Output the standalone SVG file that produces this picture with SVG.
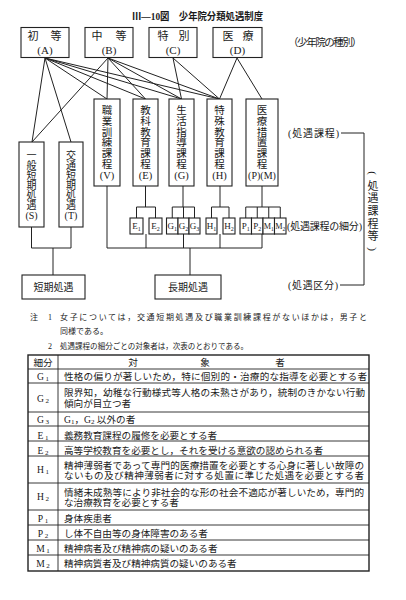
<svg xmlns="http://www.w3.org/2000/svg" width="406" height="600" viewBox="0 0 406 600">
<style>
text { font-family: 'Liberation Serif','Noto Sans CJK JP',serif; fill:#1a1a1a; }
.box { fill:#fff; stroke:#222; stroke-width:1.1; }
.ln { stroke:#222; stroke-width:1; fill:none; }
.c { text-anchor:middle; }
.t11 { font-size:11px; }
.v { font-size:10.5px; text-anchor:middle; }
.vs { font-size:10px; text-anchor:middle; }
.sb { font-size:9px; text-anchor:middle; }
.tb { font-size:9.6px; }
.lb { font-size:10px; text-anchor:middle; }
.nt { font-size:8px; }
.lab { font-size:10px; }
.tl { stroke:#222; stroke-width:0.9; fill:none; }
</style>
<rect width="406" height="600" fill="#fff"/>
<text x="132" y="19.5" font-size="10" font-weight="bold" textLength="131" lengthAdjust="spacingAndGlyphs">Ⅲ—10図　少年院分類処遇制度</text>

<g id="connectors">
<path class="ln" d="M45 58 L32 142 M45 58 L71 142 M45 58 L107 99 M45 58 L145.5 99 M45 58 L181.5 99 M45 58 L219.5 99"/>
<path class="ln" d="M108 58 L32 142 M108 58 L107 99 M108 58 L145.5 99 M108 58 L181.5 99 M108 58 L219.5 99"/>
<path class="ln" d="M173 58 L181.5 99 M173 58 L219.5 99"/>
<path class="ln" d="M237 58 L219.5 99 M237 58 L262 99"/>
<path class="ln" d="M145.5 186 V207 M136.5 207 H155.5 M136.5 207 V218 M155.5 207 V218"/>
<path class="ln" d="M183 186 V207 M172.25 207 H194.5 M172.25 207 V218 M183.5 207 V218 M194.5 207 V218"/>
<path class="ln" d="M220 186 V207 M211.5 207 H229 M211.5 207 V218 M229 207 V218"/>
<path class="ln" d="M262 186 V207 M245.75 207 H280.25 M245.75 207 V218 M257.25 207 V218 M268.75 207 V218 M280.25 207 V218"/>
<path class="ln" d="M107 186 V248 H262 M146 234 V248 M183.5 234 V248 M220 234 V248 M262 234 V248 M190 248 V275"/>
<path class="ln" d="M31.5 227 V248 H71 V227 M53 248 V275"/>
<path class="ln" d="M341 133 H364 V285 H340"/>
</g>

<g id="node-A"><rect class="box" x="21" y="27.5" width="48" height="30"/><text class="t11 c" x="33" y="39.5">初</text><text class="t11 c" x="56" y="39.5">等</text><text class="t11 c" x="45" y="53.5">(A)</text></g>
<g id="node-B"><rect class="box" x="85" y="27.5" width="48" height="30"/><text class="t11 c" x="97" y="39.5">中</text><text class="t11 c" x="121" y="39.5">等</text><text class="t11 c" x="109" y="53.5">(B)</text></g>
<g id="node-C"><rect class="box" x="149" y="27.5" width="48" height="30"/><text class="t11 c" x="163" y="39.5">特</text><text class="t11 c" x="184" y="39.5">別</text><text class="t11 c" x="173" y="53.5">(C)</text></g>
<g id="node-D"><rect class="box" x="213" y="27.5" width="49" height="30"/><text class="t11 c" x="228" y="39.5">医</text><text class="t11 c" x="248" y="39.5">療</text><text class="t11 c" x="237.5" y="53.5">(D)</text></g>
<text x="288" y="46" font-size="10.5" textLength="74">（少年院の種別）</text>

<g id="node-V"><rect class="box" x="94" y="99" width="26" height="87"/>
<text class="v"><tspan x="107" y="114">職</tspan><tspan x="107" y="124.8">業</tspan><tspan x="107" y="135.6">訓</tspan><tspan x="107" y="146.4">練</tspan><tspan x="107" y="157.2">課</tspan><tspan x="107" y="168">程</tspan><tspan x="107" y="178.5">(V)</tspan></text></g>
<g id="node-E"><rect class="box" x="133" y="99" width="25" height="87"/>
<text class="v"><tspan x="145.5" y="114">教</tspan><tspan x="145.5" y="124.8">科</tspan><tspan x="145.5" y="135.6">教</tspan><tspan x="145.5" y="146.4">育</tspan><tspan x="145.5" y="157.2">課</tspan><tspan x="145.5" y="168">程</tspan><tspan x="145.5" y="178.5">(E)</tspan></text></g>
<g id="node-G"><rect class="box" x="169" y="99" width="25" height="87"/>
<text class="v"><tspan x="181.5" y="114">生</tspan><tspan x="181.5" y="124.8">活</tspan><tspan x="181.5" y="135.6">指</tspan><tspan x="181.5" y="146.4">導</tspan><tspan x="181.5" y="157.2">課</tspan><tspan x="181.5" y="168">程</tspan><tspan x="181.5" y="178.5">(G)</tspan></text></g>
<g id="node-H"><rect class="box" x="207" y="99" width="25" height="87"/>
<text class="v"><tspan x="219.5" y="114">特</tspan><tspan x="219.5" y="124.8">殊</tspan><tspan x="219.5" y="135.6">教</tspan><tspan x="219.5" y="146.4">育</tspan><tspan x="219.5" y="157.2">課</tspan><tspan x="219.5" y="168">程</tspan><tspan x="219.5" y="178.5">(H)</tspan></text></g>
<g id="node-PM"><rect class="box" x="246" y="99" width="32" height="87"/>
<text class="v"><tspan x="262" y="114">医</tspan><tspan x="262" y="124.8">療</tspan><tspan x="262" y="135.6">措</tspan><tspan x="262" y="146.4">置</tspan><tspan x="262" y="157.2">課</tspan><tspan x="262" y="168">程</tspan><tspan x="262" y="178.5" font-size="10">(P)(M)</tspan></text></g>

<g id="node-S"><rect class="box" x="19" y="142" width="25" height="85"/>
<text class="vs"><tspan x="31.5" y="159">一</tspan><tspan x="31.5" y="169">般</tspan><tspan x="31.5" y="179">短</tspan><tspan x="31.5" y="189">期</tspan><tspan x="31.5" y="199">処</tspan><tspan x="31.5" y="209">遇</tspan><tspan x="31.5" y="218.5">(S)</tspan></text></g>
<g id="node-T"><rect class="box" x="59" y="142" width="24" height="85"/>
<text class="vs"><tspan x="71" y="159">交</tspan><tspan x="71" y="169">通</tspan><tspan x="71" y="179">短</tspan><tspan x="71" y="189">期</tspan><tspan x="71" y="199">処</tspan><tspan x="71" y="209">遇</tspan><tspan x="71" y="218.5">(T)</tspan></text></g>

<g id="sub-E1"><rect class="box" x="130" y="218" width="13" height="16"/><text class="sb" x="136.5" y="229">E<tspan font-size="6" dy="1.5">1</tspan></text></g>
<g id="sub-E2"><rect class="box" x="149" y="218" width="13" height="16"/><text class="sb" x="155.5" y="229">E<tspan font-size="6" dy="1.5">2</tspan></text></g>
<g id="sub-G1"><rect class="box" x="166.5" y="218" width="11.5" height="16"/><text class="sb" x="172.25" y="229">G<tspan font-size="6" dy="1.5">1</tspan></text></g>
<g id="sub-G2"><rect class="box" x="178" y="218" width="11" height="16"/><text class="sb" x="183.5" y="229">G<tspan font-size="6" dy="1.5">2</tspan></text></g>
<g id="sub-G3"><rect class="box" x="189" y="218" width="11" height="16"/><text class="sb" x="194.5" y="229">G<tspan font-size="6" dy="1.5">3</tspan></text></g>
<g id="sub-H1"><rect class="box" x="206" y="218" width="11" height="16"/><text class="sb" x="211.5" y="229">H<tspan font-size="6" dy="1.5">1</tspan></text></g>
<g id="sub-H2"><rect class="box" x="223" y="218" width="12" height="16"/><text class="sb" x="229" y="229">H<tspan font-size="6" dy="1.5">2</tspan></text></g>
<g id="sub-P1"><rect class="box" x="240" y="218" width="11.5" height="16"/><text class="sb" x="245.75" y="229">P<tspan font-size="6" dy="1.5">1</tspan></text></g>
<g id="sub-P2"><rect class="box" x="251.5" y="218" width="11.5" height="16"/><text class="sb" x="257.25" y="229">P<tspan font-size="6" dy="1.5">2</tspan></text></g>
<g id="sub-M1"><rect class="box" x="263" y="218" width="11.5" height="16"/><text class="sb" x="268.75" y="229" textLength="10" lengthAdjust="spacingAndGlyphs">M<tspan font-size="6" dy="1.5">1</tspan></text></g>
<g id="sub-M2"><rect class="box" x="274.5" y="218" width="11.5" height="16"/><text class="sb" x="280.25" y="229" textLength="10" lengthAdjust="spacingAndGlyphs">M<tspan font-size="6" dy="1.5">2</tspan></text></g>

<g id="node-short"><rect class="box" x="22" y="275" width="63" height="24"/><text class="lb c" x="53.5" y="291">短期処遇</text></g>
<g id="node-long"><rect class="box" x="155" y="275" width="66" height="24"/><text class="lb c" x="188" y="291">長期処遇</text></g>

<text class="lab" x="288" y="137" textLength="51">(処遇課程)</text>
<text class="lab" x="287" y="229.5" font-size="9.6" textLength="75">(処遇課程の細分)</text>
<text class="lab" x="288" y="289" textLength="50">(処遇区分)</text>
<g id="label-vertical">
<text x="373" y="173" font-size="11" text-anchor="middle" dominant-baseline="central" transform="rotate(90 373 173)">(</text>
<text font-size="11" text-anchor="middle"><tspan x="373" y="189.5">処</tspan><tspan x="373" y="202.2">遇</tspan><tspan x="373" y="215">課</tspan><tspan x="373" y="227.7">程</tspan><tspan x="373" y="240.4">等</tspan></text>
<text x="373" y="249" font-size="11" text-anchor="middle" dominant-baseline="central" transform="rotate(90 373 249)">)</text>
</g>

<g id="notes">
<text class="nt" x="30" y="320">注</text>
<text class="nt" x="48" y="320">1</text>
<text class="nt" x="60" y="320" textLength="307">女子については，交通短期処遇及び職業訓練課程がないほかは，男子と</text>
<text class="nt" x="60" y="334">同様である。</text>
<text class="nt" x="48" y="348.5">2</text>
<text class="nt" x="60" y="348.5" textLength="188" lengthAdjust="spacingAndGlyphs">処遇課程の細分ごとの対象者は，次表のとおりである。</text>
</g>

<g id="table">
<rect x="28" y="355" width="341" height="216" fill="none" stroke="#222" stroke-width="1.4"/>
<path class="tl" d="M58 355 V571 M28 369 H369 M28 383 H369 M28 412 H369 M28 426 H369 M28 441 H369 M28 456 H369 M28 483 H369 M28 510 H369 M28 525 H369 M28 540 H369 M28 555 H369"/>
<text class="tb c" x="43" y="365.5">細分</text>
<text class="tb c" x="133" y="365.5">対</text>
<text class="tb c" x="205" y="365.5">象</text>
<text class="tb c" x="280" y="365.5">者</text>

<text class="tb c" x="43" y="379.5">G<tspan font-size="7" dy="1" dx="1.5">1</tspan></text>
<text class="tb c" x="43" y="401.5">G<tspan font-size="7" dy="1" dx="1.5">2</tspan></text>
<text class="tb c" x="43" y="423">G<tspan font-size="7" dy="1" dx="1.5">3</tspan></text>
<text class="tb c" x="43" y="439">E<tspan font-size="7" dy="1" dx="1.5">1</tspan></text>
<text class="tb c" x="43" y="453.5">E<tspan font-size="7" dy="1" dx="1.5">2</tspan></text>
<text class="tb c" x="43" y="473">H<tspan font-size="7" dy="1" dx="1.5">1</tspan></text>
<text class="tb c" x="43" y="500">H<tspan font-size="7" dy="1" dx="1.5">2</tspan></text>
<text class="tb c" x="43" y="521.5">P<tspan font-size="7" dy="1" dx="1.5">1</tspan></text>
<text class="tb c" x="43" y="536.5">P<tspan font-size="7" dy="1" dx="1.5">2</tspan></text>
<text class="tb c" x="43" y="551.5">M<tspan font-size="7" dy="1" dx="1.5">1</tspan></text>
<text class="tb c" x="43" y="567">M<tspan font-size="7" dy="1" dx="1.5">2</tspan></text>

<text class="tb" x="64" y="379.5" textLength="303">性格の偏りが著しいため，特に個別的・治療的な指導を必要とする者</text>
<text class="tb" x="64" y="396" textLength="301">限界知，幼稚な行動様式等人格の未熟さがあり，統制のきかない行動</text>
<text class="tb" x="64" y="406.5">傾向が目立つ者</text>
<text class="tb" x="64" y="423">G<tspan font-size="7" dy="1">1</tspan><tspan dy="-1">，G</tspan><tspan font-size="7" dy="1">2</tspan><tspan dy="-1"> 以外の者</tspan></text>
<text class="tb" x="64" y="439">義務教育課程の履修を必要とする者</text>
<text class="tb" x="64" y="453.5">高等学校教育を必要とし，それを受ける意欲の認められる者</text>
<text class="tb" x="64" y="469" textLength="300">精神薄弱者であって専門的医療措置を必要とする心身に著しい故障の</text>
<text class="tb" x="64" y="479" textLength="300">ないもの及び精神薄弱者に対する処置に準じた処遇を必要とする者</text>
<text class="tb" x="64" y="496" textLength="300">情緒未成熟等により非社会的な形の社会不適応が著しいため，専門的</text>
<text class="tb" x="64" y="506">な治療教育を必要とする者</text>
<text class="tb" x="64" y="521.5">身体疾患者</text>
<text class="tb" x="64" y="536.5">し体不自由等の身体障害のある者</text>
<text class="tb" x="64" y="551.5">精神病者及び精神病の疑いのある者</text>
<text class="tb" x="64" y="567">精神病質者及び精神病質の疑いのある者</text>
</g>
</svg>
